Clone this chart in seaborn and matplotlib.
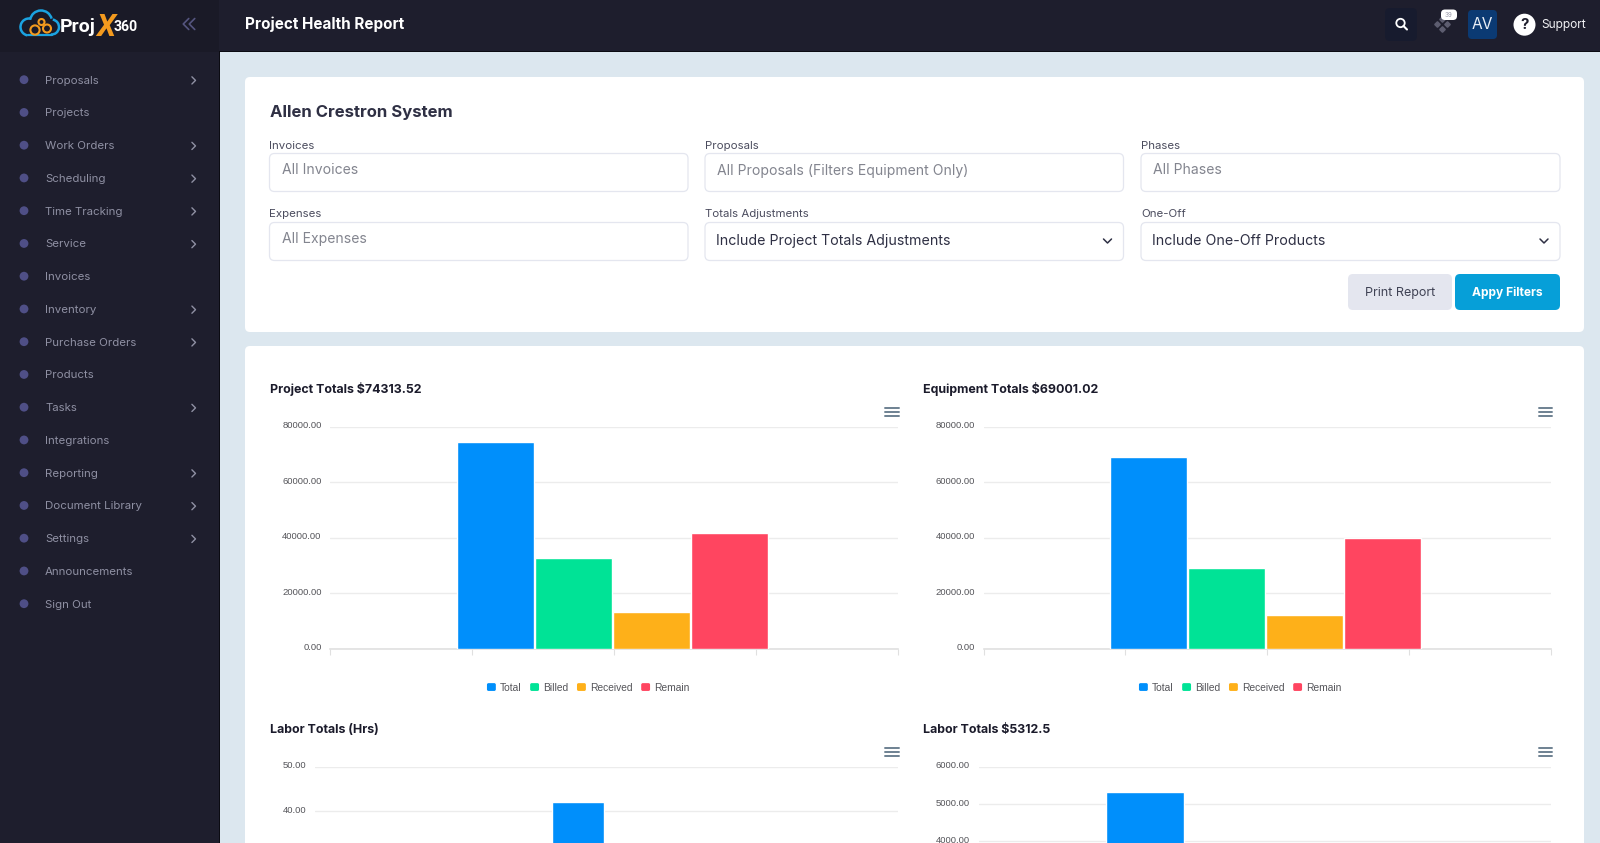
import matplotlib
matplotlib.use("Agg")
import matplotlib.pyplot as plt
from matplotlib.patches import Rectangle, FancyBboxPatch, Circle, Arc
from matplotlib.legend_handler import HandlerPatch
from matplotlib.transforms import ScaledTranslation
import numpy as np
import pandas as pd
import seaborn as sns

# ---------- data ----------
menu_items = ["Proposals", "Projects", "Work Orders", "Scheduling", "Time Tracking", "Service",
              "Invoices", "Inventory", "Purchase Orders", "Products", "Tasks", "Integrations",
              "Reporting", "Document Library", "Settings", "Announcements", "Sign Out"]
menu_with_arrow = ["Proposals", "Work Orders", "Scheduling", "Time Tracking", "Service", "Inventory",
                   "Purchase Orders", "Tasks", "Reporting", "Document Library", "Settings"]
series_names = ["Total", "Billed", "Received", "Remain"]
series_colors = ["#008FFB", "#00E396", "#FEB019", "#FF4560"]
project_totals = [74313.52, 32620, 13190, 41690]
equipment_totals = [69001.02, 29150, 12110, 39850]
labor_hours_names = ["Total", "Billed"]
labor_hours = [42.0, np.nan]          # second bar lies below the visible part of the page
labor_dollars = [5312.5, np.nan, np.nan, np.nan]
money_ticks = [0, 20000, 40000, 60000, 80000]
hours_ticks = [40, 50]
dollar_ticks = [4000, 5000, 6000]

W, H = 1600, 843
sns.set_theme(style="white")
UI = ["Inter", "DejaVu Sans"]
plt.rcParams["font.family"] = UI
fig = plt.figure(figsize=(W / 100, H / 100), dpi=100, facecolor="#dce7ef")
bg = fig.add_axes([0, 0, 1, 1])
bg.set_xlim(0, W); bg.set_ylim(H, 0); bg.axis("off")
PT = 0.72  # px -> pt


def rect(x0, y0, x1, y1, color, r=0, ec="none", lw=0, z=1):
    if r:
        p = FancyBboxPatch((x0 + r, y0 + r), x1 - x0 - 2 * r, y1 - y0 - 2 * r,
                           boxstyle=f"round,pad={r},rounding_size={r}", fc=color, ec=ec, lw=lw, zorder=z)
    else:
        p = Rectangle((x0, y0), x1 - x0, y1 - y0, fc=color, ec=ec, lw=lw, zorder=z)
    bg.add_patch(p)


def txt(x, y, s, px, color, weight="normal", ha="left", family=None, **kw):
    bg.text(x, y + 1, s, fontsize=px * PT, color=color, fontweight=weight, ha=ha, va="center",
            family=family or UI, zorder=5, **kw)


def chevron(x, y, size, color, direction="right", lw=1.0):
    if direction == "right":
        xs, ys = [x - size / 2, x + size / 2, x - size / 2], [y - size, y, y + size]
    elif direction == "left":
        xs, ys = [x + size / 2, x - size / 2, x + size / 2], [y - size, y, y + size]
    else:
        xs, ys = [x - size, x, x + size], [y - size / 2, y + size / 2, y - size / 2]
    bg.plot(xs, ys, color=color, lw=lw, zorder=5, solid_capstyle="round")


# ---------- chrome ----------
rect(0, 0, 219, H, "#1e1e2d")
rect(0, 0, 219, 52, "#1a1a27", z=2)
rect(219, 0, W, 51, "#1e1e2d", z=2)
rect(219, 51, W, 52, "#0b0b12", z=3)
rect(219, 52, 220, H, "#0b0b12", z=3)
rect(245, 77, 1584, 332, "white", r=5)
rect(245, 346, 1584, H + 20, "white", r=5)

# logo
blue = "#1ba3e0"; orange = "#f39a1e"
for c, r_, t1, t2 in [((29, 27), 8.5, 100, 285), ((41, 21.5), 11, 190, 345), ((51.5, 27), 7.5, -80, 95)]:
    bg.add_patch(Arc(c, 2 * r_, 2 * r_, theta1=t1, theta2=t2, color=blue, lw=1.8, zorder=4))
bg.plot([28, 52], [35.3, 35.3], color=blue, lw=1.6, zorder=4)
for c, r_ in [((35, 30), 4.6), ((41.5, 22), 3.0), ((47, 28.5), 4.0)]:
    bg.add_patch(Circle(c, r_, fc="#1a1a27", ec=orange, lw=1.5, zorder=5))
txt(60, 25.5, "Proj", 19.5, "white", "bold", family=["Roboto"])
txt(96, 26, "X", 31, orange, "bold", family=["Roboto"], fontstyle="italic")
txt(113.5, 26, "360", 14, "white", "bold", family=["Roboto"])
chevron(186, 24, 5.5, "#55557f", "left", 1.2)
chevron(192, 24, 5.5, "#55557f", "left", 1.2)

# sidebar menu
for i, name in enumerate(menu_items):
    y = 79.7 + i * 32.75
    bg.add_patch(Circle((24, y), 4.4, fc="#4f4f86", ec="none", zorder=4))
    txt(45, y, name, 11.5, "#8f90a3")
    if name in menu_with_arrow:
        chevron(193.7, y + 0.7, 3.6, "#8f90a3", "right")

# top bar
txt(245, 23.5, "Project Health Report", 15.2, "white", "bold")
rect(1385, 8, 1417, 41, "#171b2e", r=5, z=3)
bg.add_patch(Circle((1400.5, 23), 4.2, fc="none", ec="white", lw=1.3, zorder=5))
bg.plot([1403.5, 1407], [26, 29.5], color="white", lw=1.5, zorder=5)
for dx, dy in [(1437, 24), (1447, 24), (1442, 19), (1442, 29)]:
    bg.plot(dx, dy, marker="D", ms=2.8, color="#5d5d70", zorder=4, ls="none")
rect(1441, 9.5, 1457, 20, "white", r=4, z=5)
bg.text(1448.5, 14.8, "39", fontsize=4.5, color="#9a9aaa", ha="center", va="center", zorder=6)
rect(1468, 10, 1497, 39, "#0b3a73", r=4, z=3)
txt(1482.5, 23.5, "AV", 15.5, "#e8eef6", "normal", ha="center")
bg.add_patch(Circle((1524.5, 24.7), 11, fc="white", ec="none", zorder=4))
txt(1524.5, 24, "?", 15, "#1e1e2d", "bold", ha="center")
txt(1541, 24, "Support", 12, "#f2f2f5")

# filter card
dark = "#2f3044"; label_c = "#4b4c5e"; ph = "#83858f"
txt(270, 112, "Allen Crestron System", 16.7, dark, "bold")
cols = [(269.5, 688), (705, 1123.5), (1141, 1560)]
row1 = ["Invoices", "Proposals", "Phases"]
row1_ph = ["All Invoices", "All Proposals (Filters Equipment Only)", "All Phases"]
row2 = ["Expenses", "Totals Adjustments", "One-Off"]
row2_val = ["All Expenses", "Include Project Totals Adjustments", "Include One-Off Products"]
for k, (x0, x1) in enumerate(cols):
    txt(x0, 145, row1[k], 11.5, label_c)
    txt(x0, 213, row2[k], 11.5, label_c)
    rect(x0, 153.5, x1, 191.5, "white", r=5, ec="#e4e6ef", lw=0.9)
    rect(x0, 222.5, x1, 260.5, "white", r=5, ec="#e4e6ef", lw=0.9)
    txt(x0 + 12, 169.5, row1_ph[k], 14, ph)
    if k == 0:
        txt(x0 + 12, 237.7, row2_val[k], 14, ph)
    else:
        txt(x0 + 11, 240, row2_val[k], 14.2, dark)
        chevron(x1 - 16, 241, 4, dark, "down", 1.1)
rect(1348, 274, 1452, 310, "#e4e6ef", r=5)
txt(1400, 292, "Print Report", 12.5, "#3f4254", ha="center")
rect(1455, 274, 1560, 310, "#069fd8", r=5)
txt(1507.5, 292, "Appy Filters", 12, "white", "bold", ha="center")

# chart headings
title_c = "#1b1b2b"
txt(269.5, 388, "Project Totals $74313.52", 12.4, title_c, "bold")
txt(922.8, 388, "Equipment Totals $69001.02", 12.4, title_c, "bold")
txt(269.5, 729, "Labor Totals (Hrs)", 12.4, title_c, "bold")
txt(922.8, 729, "Labor Totals $5312.5", 12.4, title_c, "bold")
for x0, x1 in [(885, 899), (1539, 1552)]:
    for yc in [411.7, 751.7]:
        for d in (-4.2, 0, 4.2):
            bg.plot([x0, x1], [yc + d, yc + d], color="#6e8192", lw=1.4, zorder=5)

grid_c = "#ececec"; axis_c = "#e0e0e0"; tick_c = "#55555a"


def round_swatch(legend, orig_handle, xdescent, ydescent, width, height, fontsize):
    return FancyBboxPatch((-xdescent + 1.2, -ydescent + 1.2), width - 2.4, height - 2.4,
                          boxstyle="round,pad=1.2,rounding_size=1.6")


def chart(box, names, values, ticks, ylim, width, legend_center=None, shift=0.0):
    left, top, right, bottom = box
    ax = fig.add_axes([left / W, 1 - bottom / H, (right - left) / W, (bottom - top) / H])
    ax.patch.set_alpha(0)
    df = pd.DataFrame({"group": [""] * len(names), "series": names, "value": values})
    sns.barplot(data=df, x="group", y="value", hue="series", hue_order=names,
                palette=dict(zip(names, series_colors)), width=width, gap=0.015, saturation=1,
                errorbar=None, legend=legend_center is not None, ax=ax, zorder=3)
    ax.set_xlim(-0.5 + shift, 0.5 + shift)
    ax.set_ylim(*ylim)
    ax.set_yticks(ticks)
    ax.set_yticklabels([f"{t:.2f}" for t in ticks], family=["Liberation Sans"], fontsize=6.8, color=tick_c)
    ax.set_xlabel(""); ax.set_ylabel("")
    ax.tick_params(axis="y", length=0, pad=6.2)
    off = ScaledTranslation(0, 2.0 / 100, fig.dpi_scale_trans)
    for tick in ax.yaxis.get_major_ticks():
        tick.label1.set_transform(tick.label1.get_transform() + off)
    ax.grid(axis="y", color=grid_c, lw=1.0, zorder=0)
    ax.set_axisbelow(True)
    for s in ("top", "left", "right"):
        ax.spines[s].set_visible(False)
    if legend_center is not None:
        ax.set_xticks([shift + t for t in (-0.5, -0.25, 0, 0.25, 0.5)])
        ax.set_xticklabels([])
        ax.tick_params(axis="x", length=4.3, width=0.8, color=axis_c, bottom=True)
        ax.spines["bottom"].set_color(axis_c)
        ax.spines["bottom"].set_linewidth(1.2)
        sns.move_legend(ax, "center", bbox_to_anchor=(legend_center[0] / W, 1 - legend_center[1] / H),
                        bbox_transform=fig.transFigure, ncol=4, title=None, frameon=False,
                        handlelength=1.0, handleheight=1.0, handletextpad=0.35, columnspacing=0.75,
                        prop={"family": "Liberation Sans", "size": 7.4}, labelcolor="#55555a",
                        handler_map={Rectangle: HandlerPatch(patch_func=round_swatch)})
    else:
        ax.set_xticks([])
        ax.spines["bottom"].set_visible(False)
    return ax


chart((330.2, 426.5, 898.3, 649), series_names, project_totals, money_ticks, (0, 80000), 0.55, (588, 687.5), 0.003)
chart((983.5, 426.5, 1551.3, 649), series_names, equipment_totals, money_ticks, (0, 80000), 0.55, (1240, 687.5), 0.003)
chart((314.6, 767, 898.3, H), labor_hours_names, labor_hours, hours_ticks, (32.84, 50), 0.1816, None, 0.003)
chart((978.6, 767, 1551.3, H), series_names, labor_dollars, dollar_ticks, (3946, 6000), 0.55, None, 0.003)

fig.savefig("out.png", dpi=100, facecolor=fig.get_facecolor())
